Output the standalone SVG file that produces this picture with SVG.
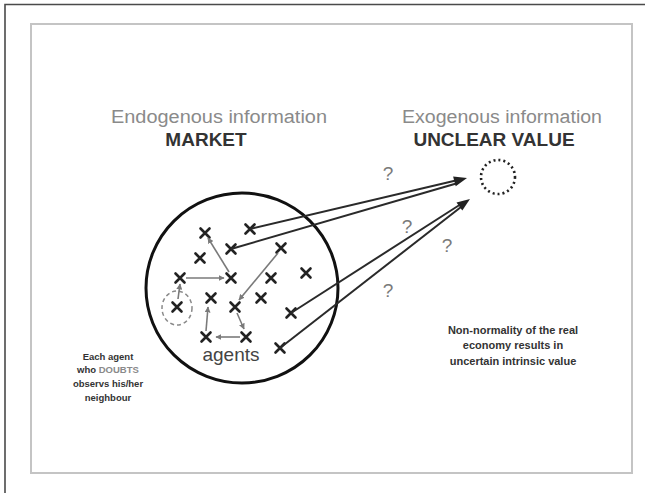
<svg xmlns="http://www.w3.org/2000/svg" width="645" height="493" viewBox="0 0 645 493">
  <style>
    .title { font-family: "Liberation Sans", Arial, sans-serif; font-size: 18px; fill: #8a8a8a; text-anchor: middle; }
    .head { font-family: "Liberation Sans", Arial, sans-serif; font-size: 19px; font-weight: bold; fill: #333; text-anchor: middle; }
    .q { font-family: "Liberation Sans", Arial, sans-serif; font-size: 19px; fill: #7a7a7a; text-anchor: middle; }
    .note { font-family: "Liberation Sans", Arial, sans-serif; font-size: 9.5px; font-weight: bold; fill: #333; text-anchor: middle; }
    .note.wide { font-size: 11px; }
    .agent { stroke: #222; stroke-width: 2.6; stroke-linecap: round; fill: none; }
    .obs { stroke: #7a7a7a; stroke-width: 1.6; fill: none; marker-end: url(#gray-head); }
    .link { stroke: #2a2a2a; stroke-width: 2; fill: none; }
  </style>
  <defs>
    <marker id="gray-head" viewBox="0 0 10 10" refX="9" refY="5" markerWidth="6" markerHeight="6" markerUnits="userSpaceOnUse" orient="auto">
      <path d="M0,0 L10,5 L0,10 z" fill="#7a7a7a"/>
    </marker>
    <path id="x-mark" d="M-4.5,-4.5 L4.5,4.5 M-4.5,4.5 L4.5,-4.5"/>
  </defs>

  <rect width="645" height="493" fill="#fff"/>
  <!-- page frame -->
  <path d="M5,493 V4.5 H645" fill="none" stroke="#4a4a4a" stroke-width="1.6"/>
  <rect x="31" y="24" width="601" height="449" fill="none" stroke="#c4c4c4" stroke-width="2"/>

  <!-- headings -->
  <g id="endogenous">
    <text class="title" x="219" y="123" textLength="216" lengthAdjust="spacingAndGlyphs">Endogenous information</text>
    <text class="head" x="206" y="146">MARKET</text>
  </g>
  <g id="exogenous">
    <text class="title" x="502" y="123" textLength="200" lengthAdjust="spacingAndGlyphs">Exogenous information</text>
    <text class="head" x="494" y="146">UNCLEAR VALUE</text>
  </g>

  <!-- unclear value target -->
  <g id="value">
    <circle cx="498" cy="177" r="17" fill="none" stroke="#222" stroke-width="2.6" stroke-dasharray="2 3"/>
  </g>

  <!-- market -->
  <g id="market">
    <ellipse cx="242" cy="288" rx="96" ry="95" fill="none" stroke="#111" stroke-width="3"/>
    <text x="231" y="361" font-family="'Liberation Sans', Arial, sans-serif" font-size="19" fill="#444" text-anchor="middle">agents</text>
  </g>

  <!-- doubting agent -->
  <g id="doubter">
    <ellipse cx="177" cy="308" rx="15" ry="17" fill="none" stroke="#8a8a8a" stroke-width="1.5" stroke-dasharray="4 3"/>
  </g>

  <!-- agents -->
  <g id="agents" class="agent">
    <use href="#x-mark" x="205" y="233"/>
    <use href="#x-mark" x="250" y="229"/>
    <use href="#x-mark" x="231" y="249"/>
    <use href="#x-mark" x="200" y="258"/>
    <use href="#x-mark" x="281" y="248"/>
    <use href="#x-mark" x="180" y="278"/>
    <use href="#x-mark" x="231" y="278"/>
    <use href="#x-mark" x="271" y="278"/>
    <use href="#x-mark" x="306" y="273"/>
    <use href="#x-mark" x="211" y="298"/>
    <use href="#x-mark" x="261" y="298"/>
    <use href="#x-mark" x="177" y="307"/>
    <use href="#x-mark" x="235" y="307"/>
    <use href="#x-mark" x="291" y="313"/>
    <use href="#x-mark" x="206" y="337"/>
    <use href="#x-mark" x="246" y="337"/>
    <use href="#x-mark" x="280" y="348"/>
  </g>

  <!-- connectors -->
  <g id="connectors">
    <!-- agents watching neighbours -->
    <line class="obs" x1="186" y1="278" x2="224" y2="278"/>
    <line class="obs" x1="229" y1="272" x2="208" y2="238"/>
    <line class="obs" x1="278" y1="253" x2="239" y2="300"/>
    <line class="obs" x1="206" y1="331" x2="208" y2="307"/>
    <line class="obs" x1="240" y1="337" x2="216" y2="337"/>
    <line class="obs" x1="237" y1="313" x2="244" y2="329"/>
    <line class="obs" x1="178" y1="299" x2="180" y2="284"/>
    <!-- links to the unclear value -->
    <line class="link" x1="250" y1="229" x2="458" y2="180"/>
    <line class="link" x1="231" y1="249" x2="458" y2="183"/>
    <polygon points="467,178 453.1,176.6 455.7,186.2" fill="#222"/>
    <line class="link" x1="291" y1="313" x2="461" y2="204"/>
    <line class="link" x1="280" y1="348" x2="461" y2="207"/>
    <polygon points="470,199 456.5,202.4 462.3,210.6" fill="#222"/>
  </g>

  <!-- question marks -->
  <g id="questions">
    <text class="q" x="388" y="180">?</text>
    <text class="q" x="407" y="233">?</text>
    <text class="q" x="447" y="252">?</text>
    <text class="q" x="388" y="297">?</text>
  </g>

  <!-- notes -->
  <g id="doubt-note">
    <text class="note" x="108" y="360">Each agent</text>
    <text class="note" x="108" y="373">who <tspan fill="#8a8a8a">DOUBTS</tspan></text>
    <text class="note" x="108" y="387">observs his/her</text>
    <text class="note" x="108" y="401">neighbour</text>
  </g>
  <g id="value-note">
    <text class="note wide" x="513" y="334">Non-normality of the real</text>
    <text class="note wide" x="513" y="349">economy results in</text>
    <text class="note wide" x="513" y="365">uncertain intrinsic value</text>
  </g>
</svg>
